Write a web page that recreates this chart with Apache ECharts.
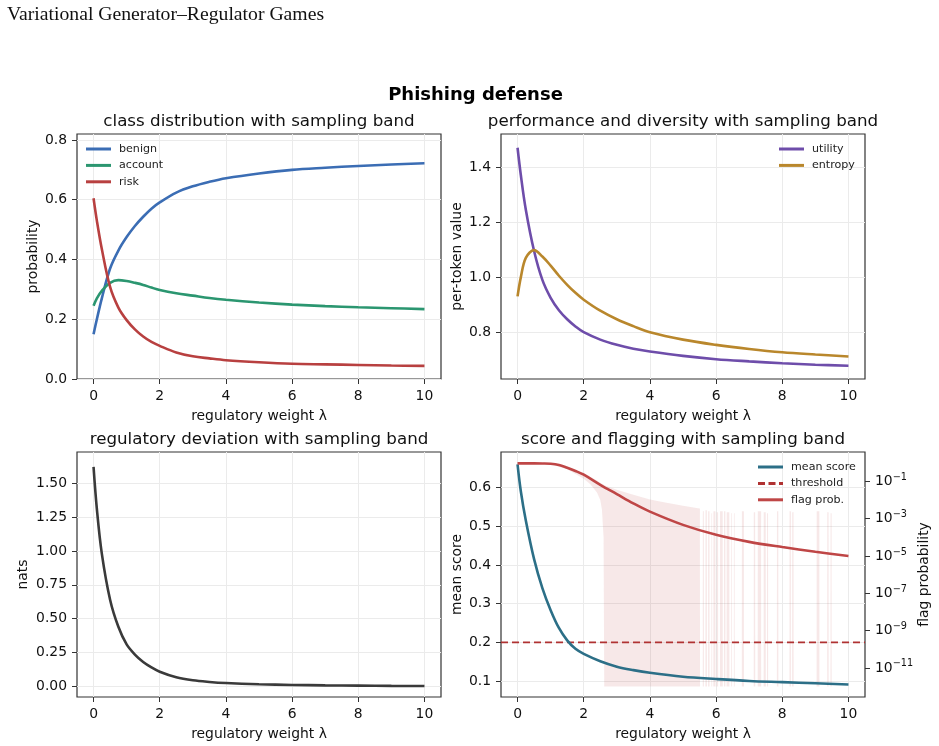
<!DOCTYPE html>
<html>
<head>
<meta charset="utf-8">
<title>Phishing defense</title>
<script src="https://cdn.jsdelivr.net/npm/echarts@6/dist/echarts.min.js"></script>
<style>
  html, body { margin: 0; padding: 0; background: #fff; }
  #main { width: 939px; height: 746px; }
</style>
</head>
<body>
<div id="main"></div>
<script>
// regulatory weight lambda
var lam = [0, 0.1, 0.25, 0.5, 0.75, 1, 1.25, 1.5, 1.75, 2, 2.5, 3, 3.5, 4, 5, 6, 7, 8, 9, 10];

// class distribution
var benign  = [0.15, 0.20, 0.27, 0.37, 0.43, 0.475, 0.512, 0.543, 0.570, 0.591, 0.624, 0.645, 0.66, 0.672, 0.688, 0.70, 0.707, 0.713, 0.718, 0.722];
var account = [0.245, 0.27, 0.295, 0.322, 0.331, 0.328, 0.322, 0.315, 0.306, 0.298, 0.287, 0.279, 0.271, 0.265, 0.256, 0.249, 0.244, 0.240, 0.237, 0.234];
var risk    = [0.605, 0.53, 0.435, 0.308, 0.239, 0.197, 0.166, 0.142, 0.124, 0.111, 0.089, 0.076, 0.069, 0.063, 0.056, 0.051, 0.049, 0.047, 0.045, 0.044];

// performance and diversity
var utility = [1.47, 1.37, 1.245, 1.095, 0.99, 0.925, 0.88, 0.847, 0.821, 0.80, 0.773, 0.754, 0.74, 0.73, 0.714, 0.702, 0.694, 0.687, 0.682, 0.678];
var entropy = [0.93, 1.00, 1.07, 1.098, 1.075, 1.042, 1.005, 0.972, 0.943, 0.918, 0.878, 0.847, 0.822, 0.80, 0.773, 0.754, 0.739, 0.727, 0.719, 0.712];

// regulatory deviation (nats)
var nats = [1.62, 1.31, 0.98, 0.64, 0.44, 0.31, 0.235, 0.18, 0.14, 0.108, 0.067, 0.045, 0.033, 0.025, 0.016, 0.011, 0.008, 0.006, 0.004, 0.003];

// score and flagging
var meanScore = [0.66, 0.59, 0.515, 0.415, 0.34, 0.283, 0.237, 0.205, 0.183, 0.170, 0.151, 0.137, 0.128, 0.121, 0.111, 0.105, 0.100, 0.097, 0.094, 0.091];
var threshold = 0.2;
// log10 of flag probability
var flagLog = [-0.03, -0.03, -0.03, -0.03, -0.035, -0.05, -0.12, -0.27, -0.44, -0.64, -1.18, -1.68, -2.18, -2.62, -3.33, -3.86, -4.24, -4.52, -4.77, -5.0];

// sampling band of flag probability (log10), continuous part
var bandX  = [0, 0.5, 1, 1.5, 2, 2.2, 2.4, 2.5, 2.55, 2.6, 2.62, 3, 3.5, 4, 4.5, 5, 5.5, 5.51];
var bandHi = [0.0, 0.0, -0.02, -0.2, -0.55, -0.75, -0.95, -1.07, -1.12, -1.17, -1.2, -1.45, -1.72, -1.97, -2.15, -2.3, -2.45, -2.45];
var bandLo = [-0.06, -0.06, -0.08, -0.35, -0.85, -1.15, -1.6, -2.0, -2.5, -4.0, -12, -12, -12, -12, -12, -12, -12, -12];
// intermittent spikes of the band after lambda 5.5: [start, end, top]
var spikes = [
  [5.60, 5.63, -2.6], [5.68, 5.72, -2.55], [5.76, 5.80, -2.6], [5.86, 5.88, -2.7],
  [5.92, 5.98, -2.6], [6.02, 6.06, -2.65], [6.12, 6.20, -2.6], [6.24, 6.28, -2.6],
  [6.32, 6.40, -2.65], [6.46, 6.48, -2.7], [6.54, 6.56, -2.7], [6.78, 6.84, -2.6],
  [7.14, 7.18, -2.65], [7.26, 7.36, -2.6], [7.44, 7.50, -2.65], [7.54, 7.57, -2.7],
  [7.84, 7.88, -2.6], [8.22, 8.26, -2.6], [8.30, 8.34, -2.65], [9.04, 9.12, -2.6],
  [9.36, 9.40, -2.65], [9.46, 9.49, -2.7]
];
var bandFloor = -12;

var xTicks = [0, 2, 4, 6, 8, 10];
var probTicks = [0.0, 0.2, 0.4, 0.6, 0.8];
var perTokenTicks = [0.8, 1.0, 1.2, 1.4];
var natsTicks = [0.0, 0.25, 0.5, 0.75, 1.0, 1.25, 1.5];
var scoreTicks = [0.1, 0.2, 0.3, 0.4, 0.5, 0.6];
var flagTicks = [-11, -9, -7, -5, -3, -1];

var chart = echarts.init(document.getElementById('main'));

function pairs(xs, ys) {
  return xs.map(function (x, i) { return [x, ys[i]]; });
}

// outline of the band: continuous part, then the spikes, down to the floor
var bx = bandX.slice(), bl = bandLo.slice(), bh = bandHi.slice();
bx.push(5.515); bl.push(bandFloor); bh.push(bandFloor);
spikes.forEach(function (s) {
  bx.push(s[0] - 0.002, s[0], s[1], s[1] + 0.002);
  bl.push(bandFloor, bandFloor, bandFloor, bandFloor);
  bh.push(bandFloor, s[2], s[2], bandFloor);
});
bx.push(10); bl.push(bandFloor); bh.push(bandFloor);

var font = 'DejaVu Sans';
var gridColor = '#ebebeb';
var frameColor = '#333';
var fs = 13.9;
var grids = [
  { left: 77, top: 134, width: 364, height: 245 },
  { left: 501, top: 134, width: 364, height: 245 },
  { left: 77, top: 452, width: 364, height: 245 },
  { left: 501, top: 452, width: 364, height: 245 }
];
grids.forEach(function (g) {
  g.show = true; g.borderColor = frameColor; g.borderWidth = 1.2;
  g.backgroundColor = 'transparent'; g.containLabel = false; g.outerBoundsMode = 'none';
});

function xAxis(idx) {
  return {
    type: 'value', gridIndex: idx, min: -0.5, max: 10.5,
    name: 'regulatory weight λ', nameLocation: 'middle', nameGap: 30,
    nameTextStyle: { fontFamily: font, fontSize: fs, color: '#111' },
    axisLine: { show: false, onZero: false },
    axisTick: { show: true, inside: false, length: 5, customValues: xTicks, lineStyle: { color: frameColor } },
    axisLabel: { customValues: xTicks, fontFamily: font, fontSize: fs, color: '#111', margin: 10 },
    splitLine: { show: true, lineStyle: { color: gridColor, width: 1 } }
  };
}
function yAxis(idx, min, max, ticks, name, gap, fmt, pos) {
  return {
    type: 'value', gridIndex: idx, min: min, max: max, position: pos || 'left',
    name: name, nameLocation: 'middle', nameGap: gap, nameRotate: 90,
    nameTextStyle: { fontFamily: font, fontSize: fs, color: '#111' },
    axisLine: { show: false, onZero: false },
    axisTick: { show: true, inside: false, length: 5, customValues: ticks, lineStyle: { color: frameColor } },
    axisLabel: { customValues: ticks, fontFamily: font, fontSize: fs, color: '#111', margin: 10, formatter: fmt },
    splitLine: { show: pos !== 'right', lineStyle: { color: gridColor, width: 1 } }
  };
}
function line(name, xi, yi, ys, color) {
  return {
    name: name, type: 'line', xAxisIndex: xi, yAxisIndex: yi,
    data: pairs(lam, ys), smooth: 0.35, symbol: 'none',
    lineStyle: { color: color, width: 2.6 }, itemStyle: { color: color }, z: 5
  };
}
function subTitle(text, cx, top) {
  return { text: text, left: cx, top: top, textAlign: 'center', padding: 0,
    textStyle: { fontFamily: font, fontSize: 16.7, fontWeight: 'normal', color: '#111' } };
}
var solidIcon = 'path://M0,0H25V3H0Z';
var dashIcon = 'path://M0,0H7V3H0Z M10.5,0H17.5V3H10.5Z M21,0H25V3H21Z';
function legend(names, left, top) {
  return {
    data: names.map(function (n) { return { name: n, icon: n === 'threshold' ? dashIcon : solidIcon }; }),
    left: left, top: top, orient: 'vertical', itemWidth: 25, itemHeight: 3, itemGap: 4.4,
    textStyle: { fontFamily: font, fontSize: 11.1, color: '#222', lineHeight: 12, padding: [0, 0, 0, 3] },
    selectedMode: false, padding: 0
  };
}

var option = {
  animation: false,
  backgroundColor: '#fff',
  title: [
    { text: 'Variational Generator–Regulator Games', left: 7, top: 5, padding: 0,
      textStyle: { fontFamily: 'Liberation Serif', fontSize: 19.7, fontWeight: 'normal', color: '#111' } },
    { text: 'Phishing defense', left: 475.5, top: 86, textAlign: 'center', padding: 0,
      textStyle: { fontFamily: font, fontSize: 18, fontWeight: 'bold', color: '#000' } },
    subTitle('class distribution with sampling band', 259, 113),
    subTitle('performance and diversity with sampling band', 683, 113),
    subTitle('regulatory deviation with sampling band', 259, 431),
    subTitle('score and flagging with sampling band', 683, 431)
  ],
  grid: grids,
  legend: [
    legend(['benign', 'account', 'risk'], 86, 143),
    legend(['utility', 'entropy'], 779, 143),
    legend(['mean score', 'threshold', 'flag prob.'], 758, 461)
  ],
  xAxis: [xAxis(0), xAxis(1), xAxis(2), xAxis(3)],
  yAxis: [
    yAxis(0, 0, 0.82, probTicks, 'probability', 37, function (v) { return v.toFixed(1); }),
    yAxis(1, 0.63, 1.52, perTokenTicks, 'per-token value', 37, function (v) { return v.toFixed(1); }),
    yAxis(2, -0.078, 1.73, natsTicks, 'nats', 47, function (v) { return v.toFixed(2); }),
    yAxis(3, 0.0585, 0.692, scoreTicks, 'mean score', 37, function (v) { return v.toFixed(1); }),
    (function () {
      var a = yAxis(3, -12.56, 0.578, flagTicks, 'flag probability', 52, function (v) {
        return '10{s|−' + Math.abs(v) + '}';
      }, 'right');
      a.axisLabel.rich = { s: { fontFamily: font, fontSize: 9.7, color: '#111', padding: [0, 0, 8, 0] } };
      return a;
    })()
  ],
  series: [
    line('benign', 0, 0, benign, '#3b6db4'),
    line('account', 0, 0, account, '#2b9670'),
    line('risk', 0, 0, risk, '#b84040'),
    line('utility', 1, 1, utility, '#6e4daa'),
    line('entropy', 1, 1, entropy, '#b9872c'),
    line('nats', 2, 2, nats, '#3a3a3a'),
    {
      name: 'flag band', type: 'custom', coordinateSystem: 'cartesian2d', xAxisIndex: 3, yAxisIndex: 4,
      data: bx.map(function (x, i) { return [x, bl[i], bh[i]]; }),
      encode: { x: 0, y: [1, 2] }, silent: true, z: 1, clip: true,
      renderItem: function (params, api) {
        if (params.dataIndex !== 0) return null;
        var pts = [];
        for (var i = 0; i < bx.length; i++) pts.push(api.coord([bx[i], bh[i]]));
        for (var j = bx.length - 1; j >= 0; j--) pts.push(api.coord([bx[j], bl[j]]));
        return { type: 'polygon', shape: { points: pts }, style: { fill: 'rgba(196, 80, 80, 0.13)', stroke: null } };
      }
    },
    line('mean score', 3, 3, meanScore, '#2c6f87'),
    {
      name: 'threshold', type: 'line', xAxisIndex: 3, yAxisIndex: 3,
      data: [[-0.5, threshold], [10.5, threshold]], symbol: 'none',
      lineStyle: { color: '#b03232', width: 1.8, type: [7, 4] }, itemStyle: { color: '#b03232' }, z: 4
    },
    line('flag prob.', 3, 4, flagLog, '#bf4646')
  ]
};
chart.setOption(option);
</script>
</body>
</html>
